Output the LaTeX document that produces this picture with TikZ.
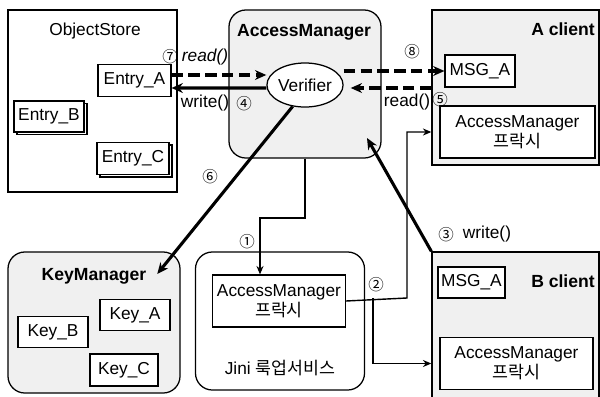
\documentclass[tikz,border=0pt]{standalone}
\usepackage{fontspec}
\setmainfont{Liberation Sans}
\newfontfamily\kr{Noto Sans CJK KR}
\usetikzlibrary{positioning,calc,arrows.meta,shapes.geometric}

\begin{document}
\begin{tikzpicture}[x=0.025cm,y=-0.025cm,font=\fontsize{12.3}{14}\selectfont,
	box/.style={draw,fill=white,line width=0.8pt,inner sep=0pt,minimum width=#1},
	area/.style={draw,line width=0.9pt,inner sep=0pt,fill=black!6},
	title/.style={font=\fontsize{12.5}{14}\selectfont\bfseries},
	num/.style={font=\kr\fontsize{11}{12}\selectfont,inner sep=0pt},
	thin/.style={-{Stealth[length=6pt,width=5pt]},line width=1pt},
	heavy/.style={-{Stealth[length=8pt,width=7pt]},line width=2.2pt},
	dashline/.style={heavy,dash pattern=on 8pt off 4pt}]
	\useasboundingbox (0,0) rectangle (600,396);

	\node[area,fill=white,minimum width=4.225cm,minimum height=4.55cm]	(store)	at	(92.5,101)	{};
	\node[area,rounded corners=12pt,minimum width=3.8cm,minimum height=3.7cm]	(accmgr)	at	(305,84)	{};
	\node[area,minimum width=4.175cm,minimum height=3.875cm]	(aclient)	at	(515.5,87.5)	{};
	\node[area,minimum width=4.175cm,minimum height=3.8cm]	(bclient)	at	(515.5,328)	{};
	\node[area,rounded corners=12pt,minimum width=4.3cm,minimum height=3.525cm]	(keymgr)	at	(94,322.5)	{};
	\node[area,fill=white,rounded corners=12pt,minimum width=4.225cm,minimum height=3.45cm]	(jini)	at	(280,321)	{};

	\node	(storelbl)	at	(95,31)		{ObjectStore};
	\node[title]	(accmgrlbl)	at	(304,32)	{AccessManager};
	\node[title]	(alabel)	at	(563,29)	{A client};
	\node[title]	(blabel)	at	(563,281)	{B client};
	\node[title]	(kmlabel)	at	(94,276)	{KeyManager};
	\node	(jinilbl)	at	(280,368)	{Jini {\kr 룩업서비스}};

	\node[box=1.825cm,minimum height=0.8cm]	(entA)	at	(134.5,80.5)	{Entry\_A};
	\node[box=1.75cm,minimum height=0.775cm]	(entBb)	at	(52,119)	{};
	\node[box=1.75cm,minimum height=0.775cm]	(entB)	at	(49,116.5)	{Entry\_B};
	\node[box=1.8cm,minimum height=0.8cm]	(entCb)	at	(136,161)	{};
	\node[box=1.8cm,minimum height=0.8cm]	(entC)	at	(133,158.5)	{Entry\_C};
	\node[ellipse,draw,fill=white,line width=0.9pt,minimum width=1.9cm,minimum height=1.1cm,inner sep=0pt]	(verifier)	at	(305,85)	{Verifier};
	\node[box=1.75cm,minimum height=0.8cm]	(msgA)	at	(480,71)	{MSG\_A};
	\node[box=3.875cm,minimum height=1.3cm,align=center]	(proxyA)	at	(517.5,132)	{AccessManager\\{\kr 프락시}};
	\node[box=1.675cm,minimum height=0.775cm]	(msgB)	at	(471.5,282.5)	{MSG\_A};
	\node[box=3.825cm,minimum height=1.3cm,align=center]	(proxyB)	at	(516.5,363.5)	{AccessManager\\{\kr 프락시}};
	\node[box=3.325cm,minimum height=1.3cm,align=center]	(proxyJ)	at	(279,301)	{AccessManager\\{\kr 프락시}};
	\node[box=1.75cm,minimum height=0.775cm]	(keyA)	at	(135,315)	{Key\_A};
	\node[box=1.75cm,minimum height=0.775cm]	(keyB)	at	(53,332)	{Key\_B};
	\node[box=1.7cm,minimum height=0.8cm]	(keyC)	at	(124,370)	{Key\_C};

	\coordinate	(c1)	at	(260,218);
	\coordinate	(c2)	at	(407,298);
	\coordinate	(c3)	at	(373,298);
	\coordinate	(w3)	at	(367,138);

	\draw[thin]	(accmgr.south)	|-	(c1)	--	(c1 |- proxyJ.north);
	\draw[thin]	(proxyJ.east)	--	(c2)	|-	(proxyA.west -| aclient.west);
	\draw[thin]	(c3)	|-	(proxyB.west -| bclient.west);
	\path[heavy]	(bclient.north west)	edge	(w3);
	\path[dashline]	($(entA.east)+(0,-5.5)$)	edge	($(verifier.west)+(0,-10)$);
	\path[heavy]	($(verifier.west)+(0,3)$)	edge	($(entA.east)+(0,7.5)$);
	\path[dashline]	(verifier.east |- msgA.west)	edge	(msgA.west);
	\path[dashline]	(aclient.west |- 0,88)	edge	($(verifier.east)+(7,3)$);
	\path[heavy]	(verifier.240)	edge	($(kmlabel.east)+(6,-2)$);

	\node[num]	(n7)	at	(170,57)	{⑦};
	\node[font=\itshape\fontsize{12.3}{14}\selectfont]	(rd1)	at	(205,57)	{read()};
	\node	(wr1)	at	(205,103)	{write()};
	\node[num]	(n4)	at	(244,104)	{④};
	\node[num]	(n8)	at	(412,52)	{⑧};
	\node	(rd2)	at	(407,102)	{read()};
	\node[num]	(n5)	at	(440,100)	{⑤};
	\node[num]	(n6)	at	(210,177)	{⑥};
	\node[num]	(n1)	at	(247,242)	{①};
	\node[num]	(n2)	at	(376,285)	{②};
	\node[num]	(n3)	at	(446,235)	{③};
	\node	(wr3)	at	(487,234)	{write()};
\end{tikzpicture}
\end{document}
